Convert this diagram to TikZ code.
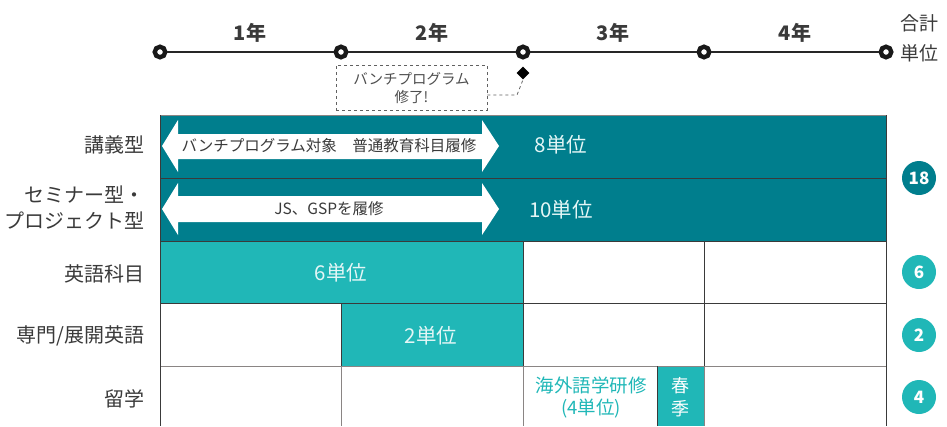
\documentclass[tikz,border=0pt]{standalone}
\usepackage{fontspec}
\setmainfont{Noto Sans CJK JP}
\usetikzlibrary{shapes.geometric,calc}
\definecolor{dteal}{HTML}{007E8D}
\definecolor{lteal}{HTML}{20B7B7}
\definecolor{txt}{HTML}{3A3A3A}
\definecolor{gline}{HTML}{8A8584}
\begin{document}
\begin{tikzpicture}[x=1pt,y=-1pt,
  tick/.style={circle, draw=black!90, line width=4.4pt, fill=white, minimum size=10.5pt, inner sep=0pt},
  yearlbl/.style={font=\fontsize{20}{20}\selectfont\bfseries, text=txt},
  rowlbl/.style={font=\fontsize{20}{26}\selectfont, text=txt, anchor=east, align=right},
  unitlbl/.style={font=\fontsize{20.5}{20.5}\selectfont, text=white!88!lteal},
  arrowtxt/.style={font=\fontsize{15.5}{15.5}\selectfont, text=txt},
  total/.style={circle, minimum size=34pt, inner sep=0pt, text=white, font=\fontsize{17}{17}\selectfont\bfseries},
  darkline/.style={draw=txt, line width=0.9pt},
  lightline/.style={draw=gline, line width=0.9pt},
  dblarrow/.style={fill=white}
]
\useasboundingbox (0,0) rectangle (947,426);

% ---- timeline ----
\node[tick] (t0) at (160,52) {};
\node[tick] (t1) at (341,52) {};
\node[tick] (t2) at (523,52) {};
\node[tick] (t3) at (704,52) {};
\node[tick] (t4) at (886,52) {};
\foreach \a/\b in {t0/t1,t1/t2,t2/t3,t3/t4}
  \draw[line width=1.2pt, black!85] (\a) -- (\b);
\node[yearlbl] (y1) at (250,33) {1年};
\node[yearlbl] (y2) at (432,33) {2年};
\node[yearlbl] (y3) at (613,33) {3年};
\node[yearlbl] (y4) at (795,33) {4年};
\node[font=\fontsize{19}{30}\selectfont, text=txt, align=center] (sum) at (919,38) {合計\\単位};

% ---- completion note ----
\node[diamond, fill=black, minimum size=13pt, inner sep=0pt] (dia) at (523,73) {};
\node[draw=txt!80, dashed, line width=0.8pt, minimum width=151pt, minimum height=45pt,
      align=center, font=\fontsize{14.5}{18}\selectfont, text=txt!90] (note) at (411.5,87.5)
      {バンチプログラム\\修了!};
\coordinate (c1) at (517,95);
\draw[dashed, line width=0.8pt, txt!80] (note.east |- c1) -- (c1) -- (dia.south);

% ---- table fills ----
\fill[dteal] (160,115) rectangle (886,241);
\fill[lteal] (160,241) rectangle (523,303);
\fill[lteal] (341,303) rectangle (523,366);
\fill[lteal] (657,366) rectangle (704,426);

% ---- double arrows ----
\fill[dblarrow] (162,146) -- (178,120) -- (178,134) -- (482,134) -- (482,120) -- (499,146)
  -- (482,172) -- (482,159) -- (178,159) -- (178,172) -- cycle;
\fill[dblarrow] (162,209) -- (178,183) -- (178,196) -- (482,196) -- (482,183) -- (499,209)
  -- (482,235) -- (482,222) -- (178,222) -- (178,235) -- cycle;
\node[arrowtxt] (a1) at (329,146) {バンチプログラム対象\quad 普通教育科目履修};
\node[arrowtxt] (a2) at (329,209) {JS、GSPを履修};

% ---- grid ----
\draw[lightline] (160,115) -- (886,115);
\draw[darkline] (160,178) -- (886,178);
\draw[darkline] (160,241) -- (886,241);
\draw[darkline] (160,303) -- (886,303);
\draw[lightline] (160,366) -- (886,366);
\draw[darkline] (160,115) -- (160,426);
\draw[darkline] (886,115) -- (886,426);
\draw[darkline] (523,241) -- (523,366);
\draw[darkline] (704,241) -- (704,366);
\draw[darkline] (341,303) -- (341,366);
\draw[lightline] (341,366) -- (341,426);
\draw[lightline] (523,366) -- (523,426);
\draw[lightline] (704,366) -- (704,426);
\draw[darkline] (657,366) -- (657,426);

% ---- cell texts ----
\node[unitlbl] (u8) at (561,145) {8単位};
\node[unitlbl] (u10) at (561,210) {10単位};
\node[unitlbl] (u6) at (341,273) {6単位};
\node[unitlbl] (u2) at (431,336) {2単位};
\node[font=\fontsize{18.5}{22}\selectfont, text=lteal, align=center] (ryu) at (591,397) {海外語学研修\\(4単位)};
\node[font=\fontsize{18}{23}\selectfont, text=white, align=center] (spr) at (680,397) {春\\季};

% ---- row labels ----
\node[rowlbl] (r1) at (148,145) {講義型};
\node[rowlbl] (r2) at (148,208) {セミナー型・\\プロジェクト型};
\node[rowlbl] (r3) at (148,274) {英語科目};
\node[rowlbl] (r4) at (148,336) {専門/展開英語};
\node[rowlbl] (r5) at (148,399) {留学};

% ---- totals ----
\node[total, fill=dteal] (s18) at (919,178) {18};
\node[total, fill=lteal] (s6) at (919,272) {6};
\node[total, fill=lteal] (s2) at (919,335) {2};
\node[total, fill=lteal] (s4) at (919,397) {4};
\end{tikzpicture}
\end{document}
